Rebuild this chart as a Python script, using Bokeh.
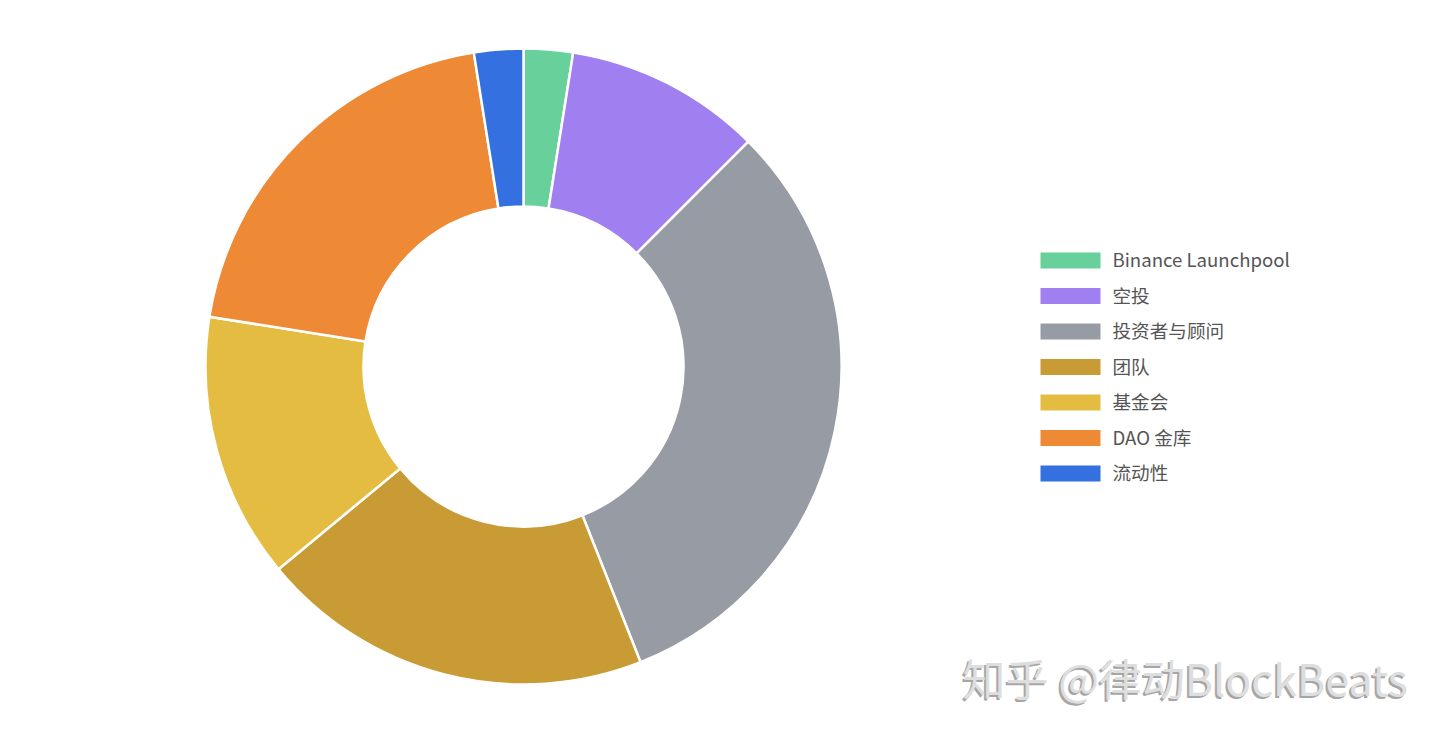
import math
from bokeh.plotting import figure
from bokeh.models import Range1d, ColumnDataSource
from bokeh.core.properties import value
from bokeh.embed import file_html
from bokeh.resources import INLINE

categories = ["Binance Launchpool", "空投", "投资者与顾问", "团队", "基金会", "DAO 金库", "流动性"]
shares = [2.5, 10.0, 31.5, 20.0, 13.5, 20.0, 2.5]
colors = ["#68d09a", "#a07ff0", "#969ba4", "#c89b34", "#e4bc42", "#ee8a36", "#3570e0"]
watermark = "知乎 @律动BlockBeats"

W, H = 1424, 719
p = figure(width=W, height=H, output_backend="svg", toolbar_location=None,
           x_range=Range1d(0, W), y_range=Range1d(0, H), min_border=0,
           outline_line_color=None)
p.axis.visible = False
p.grid.visible = False
p.background_fill_color = "white"
p.border_fill_color = "white"

total = sum(shares)
starts, ends = [], []
cum = 0.0
for s in shares:
    starts.append(math.pi / 2 - 2 * math.pi * cum / total)
    cum += s
    ends.append(math.pi / 2 - 2 * math.pi * cum / total)

cx, cy = 523, H - 366
src = ColumnDataSource(dict(start=starts, end=ends, color=colors, name=categories))
p.annular_wedge(x=cx, y=cy, inner_radius=160, outer_radius=318,
                start_angle="start", end_angle="end", direction="clock",
                fill_color="color", line_color="white", line_width=2.5, source=src)

# legend
n = len(categories)
ly = [H - (260 + 35.5 * i) for i in range(n)]
lty = [y + 2 for y in ly]
lsrc = ColumnDataSource(dict(y=ly, ty=lty, color=colors, name=categories))
p.rect(x=1070, y="y", width=60, height=16, fill_color="color", line_color=None, source=lsrc)
p.text(x=1112, y="ty", text="name", text_font=value("Noto Sans CJK SC"),
       text_font_size="18.6px", text_color="#555555", text_baseline="middle",
       source=lsrc)

# watermark
p.text(x=[960], y=[H - 676 - 2], text=[watermark], text_font=value("Noto Sans CJK SC"),
       text_font_size="43px", text_color="#a6a6a6", text_baseline="middle")
p.text(x=[962], y=[H - 676], text=[watermark], text_font=value("Noto Sans CJK SC"),
       text_font_size="43px", text_color="#dedede", text_baseline="middle")

open("out.html", "w").write(file_html(p, INLINE))
